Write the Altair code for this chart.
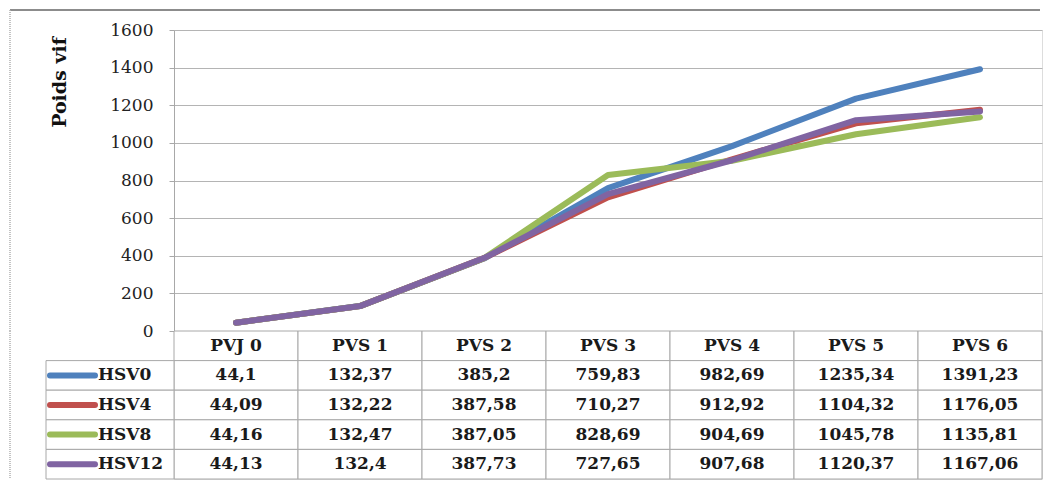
import altair as alt
import pandas as pd

cats = ["PVJ 0", "PVS 1", "PVS 2", "PVS 3", "PVS 4", "PVS 5", "PVS 6"]
series = ["HSV0", "HSV4", "HSV8", "HSV12"]
hsv0 = [44.1, 132.37, 385.2, 759.83, 982.69, 1235.34, 1391.23]
hsv4 = [44.09, 132.22, 387.58, 710.27, 912.92, 1104.32, 1176.05]
hsv8 = [44.16, 132.47, 387.05, 828.69, 904.69, 1045.78, 1135.81]
hsv12 = [44.13, 132.4, 387.73, 727.65, 907.68, 1120.37, 1167.06]
colors = ["#4F81BD", "#C0504D", "#9BBB59", "#8064A2"]
y_ticks = [0, 200, 400, 600, 800, 1000, 1200, 1400, 1600]

values = {"HSV0": hsv0, "HSV4": hsv4, "HSV8": hsv8, "HSV12": hsv12}

rows = []
for s in series:
    for i, c in enumerate(cats):
        v = values[s][i]
        rows.append({"series": s, "order": series.index(s), "cat": c, "value": v,
                     "label": str(v).replace(".", ",")})
df = pd.DataFrame(rows)

header = pd.DataFrame({"row": ["header"] * len(cats), "cat": cats, "label": cats})
cells = pd.concat([
    header,
    pd.DataFrame({"row": df["series"], "cat": df["cat"], "label": df["label"]}),
], ignore_index=True)
labels_df = pd.DataFrame({"row": series, "series": series})
frame_df = pd.DataFrame({"k": [0]})

FONT = "DejaVu Serif"
W = 868
row_domain = ["header"] + series
GRID = "#b4b4b4"
BORDER = "#a8a8a8"
FRAME = "#8c8c8c"
TXT = "#1a1a1a"

color_scale = alt.Scale(domain=series, range=colors)

lines = alt.Chart(df).mark_line(strokeWidth=6, strokeCap="round", strokeJoin="round").encode(
    x=alt.X("cat:N", sort=cats, scale=alt.Scale(type="point", domain=cats, padding=0.5), axis=None),
    y=alt.Y("value:Q", scale=alt.Scale(domain=[0, 1600], nice=False),
            axis=alt.Axis(values=y_ticks, format="d", title="Poids vif", grid=True, gridColor=GRID,
                          domainColor=BORDER, tickColor=BORDER, tickSize=5,
                          labelFont=FONT, labelFontSize=17, labelColor="#222",
                          labelPadding=16, titleFont=FONT, titleFontSize=19,
                          titleFontWeight="bold", titleColor="#111",
                          titleY=52, titleAlign="center", titlePadding=40)),
    color=alt.Color("series:N", scale=color_scale, legend=None),
    order=alt.Order("order:Q"),
    detail="series:N",
)
frame_top = alt.Chart(frame_df).mark_rule(color=FRAME, strokeWidth=2).encode(
    x=alt.value(-164), x2=alt.value(866), y=alt.value(-20))
frame_left_top = alt.Chart(frame_df).mark_rule(color="#b0b0b0", strokeWidth=1.5, strokeDash=[1, 1]).encode(
    x=alt.value(-164), y=alt.value(-20), y2=alt.value(301))

top = alt.layer(frame_top, frame_left_top, lines).properties(width=W, height=301)


def xband(bp=None):
    kw = {} if bp is None else {"bandPosition": bp}
    return alt.X("cat:N", sort=cats, scale=alt.Scale(type="band", domain=cats, paddingInner=0, paddingOuter=0),
                 axis=None, **kw)


def yband(bp=None):
    kw = {} if bp is None else {"bandPosition": bp}
    return alt.Y("row:N", scale=alt.Scale(type="band", domain=row_domain, paddingInner=0, paddingOuter=0),
                 axis=None, **kw)


cell_rects = alt.Chart(cells).mark_rect(fill="white", stroke=BORDER, strokeWidth=1).encode(x=xband(), y=yband())
cell_text = alt.Chart(cells).mark_text(font=FONT, fontSize=17, fontWeight="bold", color=TXT).encode(
    x=xband(0.5), y=yband(0.5), text="label:N",
)
label_rects = alt.Chart(labels_df).mark_rect(fill="white", stroke=BORDER, strokeWidth=1).encode(
    x=alt.value(-128), x2=alt.value(0), y=yband())
swatches = alt.Chart(labels_df).mark_rule(strokeWidth=6, strokeCap="round").encode(
    x=alt.value(-124), x2=alt.value(-79), y=yband(0.5),
    color=alt.Color("series:N", scale=color_scale, legend=None),
)
label_text = alt.Chart(labels_df).mark_text(font=FONT, fontSize=17, fontWeight="bold", color=TXT,
                                            align="left").encode(
    x=alt.value(-76), y=yband(0.5), text="series:N",
)
frame_left_bottom = alt.Chart(frame_df).mark_rule(color="#b0b0b0", strokeWidth=1.5, strokeDash=[1, 1]).encode(
    x=alt.value(-164), y=alt.value(0), y2=alt.value(148))

bottom = alt.layer(frame_left_bottom, cell_rects, label_rects, swatches, cell_text, label_text).properties(
    width=W, height=148)

chart = alt.vconcat(top, bottom, spacing=0, bounds="flush").configure_view(stroke=None).configure(
    background="white"
).properties(padding={"left": 0, "top": 0, "right": 0, "bottom": 0})

chart.save("out.html", embed_options={"renderer": "svg", "actions": False})
